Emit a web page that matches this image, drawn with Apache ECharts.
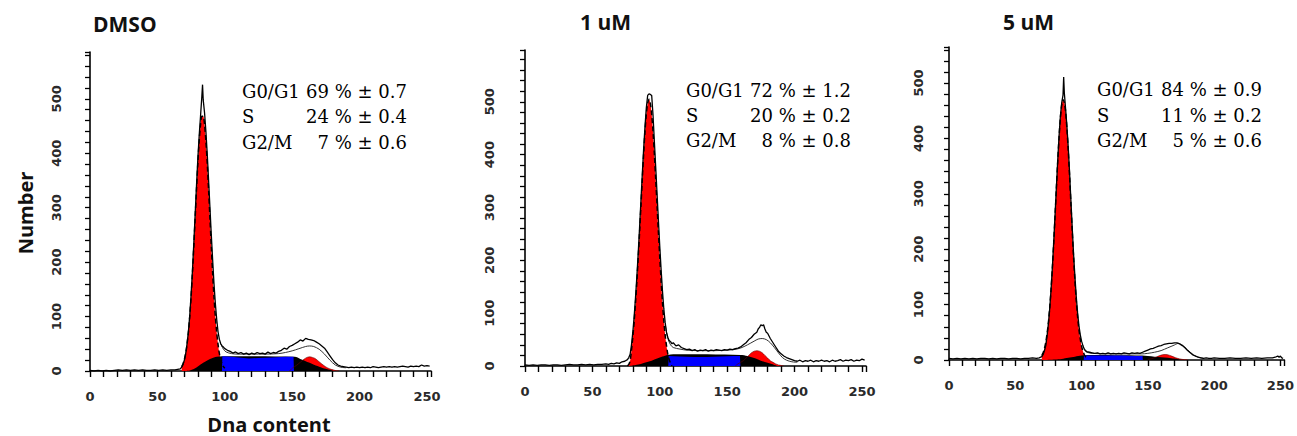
<!DOCTYPE html>
<html><head><meta charset="utf-8">
<script src="https://cdn.jsdelivr.net/npm/echarts@6/dist/echarts.min.js"></script>
<style>html,body{margin:0;padding:0;background:#fff}#c{width:1297px;height:436px}</style>
</head><body><div id="c"></div>
<script>
// ---------- text data ----------
const panelTitles = ['DMSO', '1 uM', '5 uM'];
const phaseNames = ['G0/G1', 'S', 'G2/M'];
const dmsoMean = [69, 24, 7];   const dmsoSd = [0.7, 0.4, 0.6];
const uM1Mean  = [72, 20, 8];   const uM1Sd  = [1.2, 0.2, 0.8];
const uM5Mean  = [84, 11, 5];   const uM5Sd  = [0.9, 0.2, 0.6];
const xTicks = [0, 50, 100, 150, 200, 250];
const yTicks = [0, 100, 200, 300, 400, 500];
const xName = 'Dna content';
const yName = 'Number';

// ---------- DMSO ----------
const dmsoRaw = [[0,1],[3,0],[6,1],[9,0],[12,1],[15,0],[18,1],[21,2],[24,1],[27,2],[30,1],[33,2],[36,1],[39,2],[42,1],[45,1],[48,2],[51,1],[54,2],[57,1],[60,2],[63,2],[65,3],[67,4],[68,7],[69,12],[70,20],[71,32],[72,50],[73,72],[74,102],[75,140],[76,184],[77,234],[78,287],[79,340],[80,390],[81,432],[82,468],[83,505],[83.5,526],[84,498],[85,474],[86,440],[87,398],[88,350],[89,300],[90,250],[91,204],[92,160],[93,124],[94,95],[95,72],[96,58],[97,50],[98,46],[99,44],[100,41],[102,38],[104,36],[106,33],[108,35],[110,32],[112,34],[114,31],[116,33],[118,30],[120,33],[122,31],[124,34],[126,32],[128,33],[130,31],[132,35],[134,32],[136,34],[138,33],[140,36],[142,38],[144,42],[146,40],[148,45],[150,47],[152,50],[154,53],[156,57],[158,55],[160,60],[162,58],[164,57],[166,56],[168,53],[170,50],[172,46],[174,42],[176,35],[178,28],[180,21],[182,15],[184,11],[186,9],[188,8],[190,7],[192,6],[194,7],[196,6],[198,7],[200,6],[202,7],[204,6],[206,7],[208,6],[210,8],[212,7],[214,6],[216,7],[218,8],[220,7],[222,8],[224,7],[226,8],[228,7],[230,8],[232,9],[234,8],[236,7],[238,9],[240,8],[242,9],[244,8],[246,11],[248,9],[250,10],[252,9]];
const dmsoFit = [[97,50],[99,40],[101,35],[105,32],[110,31],[120,31],[130,31],[140,32],[145,34],[150,37],[155,41],[160,45],[163,46],[166,45],[170,40],[174,31],[178,20],[182,11],[186,7],[190,6]];
const dmsoG1 = [[68,8],[69,13],[70,21],[71,32],[72,49],[73,71],[74,100],[75,136],[76,179],[77,228],[78,280],[79,332],[80,381],[81,422],[82,452],[83,468],[84,468],[85,452],[86,422],[87,381],[88,332],[89,280],[90,228],[91,179],[92,136],[93,100],[94,71],[95,49],[96,32],[97,20],[98,13],[99,8],[100,5]];
const dmsoG2 = [[148,0],[150,5],[153,10],[156,16],[159,22],[161,25],[163,26],[165,25],[167,23],[170,17],[173,11],[176,6],[179,3],[182,1],[185,0]];
const dmsoSBlack = [[70,0],[74,1],[78,5],[82,12],[86,18],[90,23],[94,26],[98,27],[152,26],[156,22],[160,18],[165,13],[170,8],[175,4],[180,1],[183,0]];
const dmsoSBlue = [[97.9,0],[98.2,27],[105,26],[110,25],[118,23],[125,24],[135,25],[145,26],[151,26],[151.3,0]];

// ---------- 1 uM ----------
const uM1Raw = [[0,2],[3,1],[6,2],[9,1],[12,2],[15,2],[18,1],[21,2],[24,2],[27,1],[30,2],[33,3],[36,2],[39,2],[42,3],[45,2],[48,3],[51,2],[54,3],[57,3],[60,4],[62,3],[64,5],[66,4],[68,6],[70,5],[72,8],[74,9],[76,12],[77,16],[78,22],[79,40],[80,64],[81,94],[82,130],[83,170],[84,214],[85,262],[86,312],[87,362],[88,410],[89,452],[90,488],[91,512],[92,515],[93,514],[94,512],[95,474],[96,424],[97,375],[98,325],[99,275],[100,226],[101,182],[102,142],[103,108],[104,82],[105,63],[106,54],[107,48],[108,46],[109,42],[110,44],[112,38],[114,40],[116,35],[118,33],[120,31],[122,32],[124,29],[126,31],[128,28],[130,30],[132,29],[134,31],[136,28],[138,30],[140,29],[142,31],[144,30],[146,29],[148,31],[150,30],[152,32],[154,31],[156,33],[158,34],[160,36],[162,40],[164,44],[166,50],[168,54],[170,60],[172,64],[173,70],[174,73],[175,78],[176,76],[177,78],[178,70],[179,64],[180,62],[182,52],[184,44],[186,36],[188,28],[190,23],[192,19],[194,16],[196,14],[198,12],[200,10],[202,9],[204,11],[206,8],[208,10],[210,9],[212,11],[214,8],[216,10],[218,9],[220,11],[222,9],[224,10],[226,8],[228,11],[230,9],[232,10],[234,12],[236,9],[238,11],[240,10],[242,12],[244,9],[246,11],[248,10],[250,13],[252,11]];
const uM1Fit = [[104,80],[106,52],[108,40],[110,35],[115,32],[120,30],[130,29],[140,29],[150,30],[155,31],[160,34],[165,40],[170,47],[173,51],[176,52],[179,50],[182,44],[185,35],[188,25],[191,16],[194,11],[198,8],[202,7]];
const uM1G1 = [[76,0],[77,3],[78,10],[79,30],[80,55],[81,85],[82,120],[83,160],[84,205],[85,252],[86,302],[87,352],[88,400],[89,443],[90,476],[91,497],[92,505],[93,497],[94,476],[95,443],[96,400],[97,352],[98,302],[99,252],[100,205],[101,160],[102,120],[103,85],[104,58],[105,38],[106,22],[107,12],[108,5],[109,0]];
const uM1G2 = [[156,0],[158,4],[160,7],[162,10],[164,15],[166,20],[168,25],[170,28],[172,29],[174,28],[176,25],[178,20],[180,15],[182,10],[184,7],[186,4],[188,2],[190,1],[192,0]];
const uM1SBlack = [[77,0],[82,2],[86,4],[90,7],[94,10],[98,14],[102,18],[106,21],[110,22],[160,21],[165,19],[170,15],[175,10],[180,6],[185,2],[188,0]];
const uM1SBlue = [[106.3,0],[106.6,19],[115,18],[125,17],[135,17],[145,18],[155,19],[159.5,19],[159.8,0]];

// ---------- 5 uM ----------
const uM5Raw = [[0,3],[3,2],[6,3],[9,2],[12,3],[15,2],[18,3],[21,2],[24,3],[27,3],[30,2],[33,3],[36,2],[39,3],[42,3],[45,2],[48,3],[51,3],[54,2],[57,3],[60,3],[63,4],[66,3],[68,4],[70,6],[71,10],[72,17],[73,26],[74,44],[75,66],[76,94],[77,128],[78,168],[79,214],[80,262],[81,312],[82,360],[83,404],[84,440],[85,464],[86,478],[86.5,511],[87,482],[88,452],[89,420],[90,382],[91,336],[92,286],[93,237],[94,190],[95,150],[96,114],[97,85],[98,62],[99,46],[100,34],[101,26],[102,20],[103,17],[104,15],[106,14],[108,13],[110,12],[112,13],[114,11],[116,12],[118,11],[120,13],[122,11],[124,12],[126,11],[128,12],[130,11],[132,13],[134,12],[136,11],[138,13],[140,12],[142,13],[144,12],[146,14],[148,16],[150,18],[152,20],[154,21],[156,23],[158,25],[160,26],[162,28],[164,29],[166,30],[168,30],[170,31],[172,31],[174,29],[176,26],[178,22],[180,17],[182,13],[184,9],[186,7],[188,5],[190,4],[192,3],[194,4],[196,3],[198,3],[200,4],[204,3],[208,3],[212,4],[216,3],[220,3],[224,4],[228,3],[232,4],[236,3],[240,4],[244,4],[246,5],[248,7],[249,5],[250,7],[251,4],[252,3]];
const uM5Fit = [[102,18],[104,14],[108,12],[120,11],[130,11],[140,11],[145,11],[150,12],[155,14],[160,17],[165,22],[170,27],[173,30],[176,27],[180,18],[184,10],[188,5],[192,3]];
const uM5G1 = [[70,8],[71,13],[72,21],[73,32],[74,48],[75,68],[76,95],[77,128],[78,167],[79,212],[80,260],[81,310],[82,358],[83,401],[84,436],[85,460],[86,470],[87,465],[88,447],[89,416],[90,376],[91,330],[92,280],[93,231],[94,184],[95,143],[96,107],[97,78],[98,55],[99,38],[100,25],[101,16],[102,10],[103,6],[104,3]];
const uM5G2 = [[150,1],[153,2.5],[156,5],[159,8],[161,9.5],[163,10],[165,9.5],[168,7],[171,4],[174,2],[177,0.7],[180,0]];
const uM5SBlack = [[72,0],[80,1],[85,2],[90,4],[95,6],[100,8],[104,9],[146,8],[150,7],[155,6],[160,5],[165,4],[170,2.5],[175,1],[178,0]];
const uM5SBlue = [[101.6,0],[101.8,8],[110,8],[120,8],[130,8],[140,7],[146,7],[146.2,0]];

const panels = [
  {raw: dmsoRaw, fit: dmsoFit, g1: dmsoG1, g2: dmsoG2, sb: dmsoSBlack, su: dmsoSBlue, mean: dmsoMean, sd: dmsoSd},
  {raw: uM1Raw, fit: uM1Fit, g1: uM1G1, g2: uM1G2, sb: uM1SBlack, su: uM1SBlue, mean: uM1Mean, sd: uM1Sd},
  {raw: uM5Raw, fit: uM5Fit, g1: uM5G1, g2: uM5G2, sb: uM5SBlack, su: uM5SBlue, mean: uM5Mean, sd: uM5Sd}
];

// ---------- layout (pixels) ----------
const gridBoxes = [
  {left: 90, top: 52, width: 341, height: 319},
  {left: 525, top: 50, width: 341, height: 316},
  {left: 949, top: 47, width: 341, height: 313}
];
const xMax = 253;
const yMax = [586, 598, 565];
const yLabelMargin = [27, 29, 24];
const titlePos = [[93, 24], [580, 22], [1003, 22]];
const annoPos = [ // [labelLeft, valueRight, firstRowY, rowStep]
  [242, 407, 91, 25.5],
  [686, 851, 90, 25],
  [1097, 1262, 89.5, 25.5]
];

const axisColor = '#000';

const option = {
  animation: false,
  grid: gridBoxes,
  xAxis: gridBoxes.map((g, i) => ({
    type: 'value', gridIndex: i, min: 0, max: xMax, interval: 10,
    axisLine: {show: true, lineStyle: {color: axisColor, width: 1.6}},
    axisTick: {show: true, length: 6, lineStyle: {color: axisColor, width: 1.4}},
    splitLine: {show: true, lineStyle: {color: 'rgba(255,255,255,0)'}},
    axisLabel: {customValues: xTicks, margin: 19, fontFamily: 'DejaVu Sans', fontWeight: 'bold', fontSize: 13, color: '#2a2a2a'}
  })),
  yAxis: gridBoxes.map((g, i) => ({
    type: 'value', gridIndex: i, min: 0, max: yMax[i], interval: 20,
    axisLine: {show: true, lineStyle: {color: axisColor, width: 1.6}},
    axisTick: {show: true, length: 5, lineStyle: {color: axisColor, width: 1.3}},
    splitLine: {show: true, lineStyle: {color: 'rgba(255,255,255,0)'}},
    axisLabel: {customValues: yTicks, margin: yLabelMargin[i], rotate: 90, fontFamily: 'DejaVu Sans', fontWeight: 'bold', fontSize: 13, color: '#2a2a2a'}
  })),
  series: [],
  graphic: []
};

panels.forEach((p, i) => {
  const base = {type: 'line', xAxisIndex: i, yAxisIndex: i, symbol: 'none', silent: true};
  option.series.push(
    Object.assign({}, base, {name: 'G0/G1 ' + i, data: p.g1, smooth: 0.3,
      lineStyle: {color: '#000', width: 1.5, type: [5, 3]}, areaStyle: {color: '#ff0000', opacity: 1}}),
    Object.assign({}, base, {name: 'G2/M ' + i, data: p.g2, smooth: 0.3,
      lineStyle: {color: '#600', width: 0.6}, areaStyle: {color: '#ff0000', opacity: 1}}),
    Object.assign({}, base, {name: 'S base ' + i, data: p.sb, smooth: 0.3,
      lineStyle: {width: 0}, areaStyle: {color: '#000', opacity: 1}}),
    Object.assign({}, base, {name: 'S ' + i, data: p.su, smooth: false,
      lineStyle: {width: 0}, areaStyle: {color: '#0000ff', opacity: 1}}),
    Object.assign({}, base, {name: 'Fit ' + i, data: p.fit, smooth: 0.3,
      lineStyle: {color: '#333', width: 1}}),
    Object.assign({}, base, {name: 'Raw ' + i, data: p.raw, smooth: false,
      lineStyle: {color: '#000', width: 1.3}})
  );
  option.graphic.push({type: 'text', x: titlePos[i][0], y: titlePos[i][1], silent: true,
    style: {text: panelTitles[i], fontFamily: 'Open Sans', fontWeight: 'bold', fontSize: 21,
      fill: '#111', textAlign: 'left', textVerticalAlign: 'middle'}});
  const a = annoPos[i];
  phaseNames.forEach((nm, r) => {
    const y = a[2] + r * a[3];
    option.graphic.push({type: 'text', x: a[0], y: y, silent: true,
      style: {text: nm, fontFamily: 'DejaVu Serif', fontSize: 18, fill: '#000',
        textAlign: 'left', textVerticalAlign: 'middle'}});
    option.graphic.push({type: 'text', x: a[1], y: y, silent: true,
      style: {text: p.mean[r] + ' % \u00b1 ' + p.sd[r].toFixed(1), fontFamily: 'DejaVu Serif', fontSize: 18, fill: '#000',
        textAlign: 'right', textVerticalAlign: 'middle'}});
  });
});

option.graphic.push({type: 'text', x: 25, y: 213, rotation: Math.PI / 2, silent: true,
  style: {text: yName, fontFamily: 'Open Sans', fontWeight: 'bold', fontSize: 20, fill: '#111',
    textAlign: 'center', textVerticalAlign: 'middle'}});
option.graphic.push({type: 'text', x: 269, y: 424, silent: true,
  style: {text: xName, fontFamily: 'Open Sans', fontWeight: 'bold', fontSize: 20, fill: '#111',
    textAlign: 'center', textVerticalAlign: 'middle'}});

const chart = echarts.init(document.getElementById('c'), null, {renderer: 'svg', width: 1297, height: 436});
chart.setOption(option);
</script>
</body></html>
